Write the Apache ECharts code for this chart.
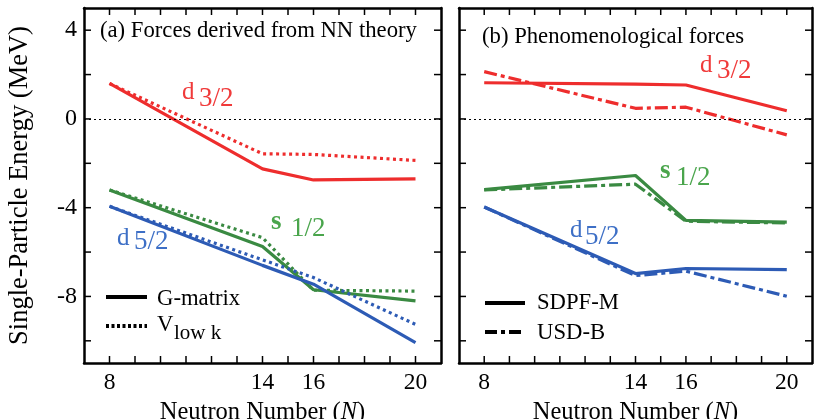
<!DOCTYPE html>
<html>
<head>
<meta charset="utf-8">
<script src="https://cdn.jsdelivr.net/npm/echarts@6/dist/echarts.min.js"></script>
<style>
  html, body { margin: 0; padding: 0; background: #fff; }
  #chart { width: 817px; height: 419px; }
</style>
</head>
<body>
<div id="chart"></div>
<script>
// neutron numbers
const N = [8, 14, 16, 20];
// (a) forces derived from NN theory
const gD32 = [1.6, -2.25, -2.75, -2.7];
const vD32 = [1.6, -1.57, -1.6, -1.87];
const gS12 = [-3.2, -5.75, -7.7, -8.2];
const vS12 = [-3.2, -5.35, -7.72, -7.76];
const gD52 = [-3.94, -6.6, -7.45, -10.08];
const vD52 = [-3.94, -6.35, -7.15, -9.26];
// (b) phenomenological forces
const sD32 = [1.63, 1.57, 1.53, 0.37];
const uD32 = [2.13, 0.48, 0.53, -0.72];
const sS12 = [-3.19, -2.55, -4.57, -4.65];
const uS12 = [-3.2, -2.94, -4.61, -4.69];
const sD52 = [-3.97, -6.97, -6.74, -6.79];
const uD52 = [-3.97, -7.06, -6.86, -7.99];

// ticks and tick labels
const xTicks = [8, 9, 10, 11, 12, 13, 14, 15, 16, 17, 18, 19, 20];
const xLabels = [8, 14, 16, 20];
const yTicks = [-10, -8, -6, -4, -2, 0, 2, 4];
const yLabels = [-8, -4, 0, 4];

const RED = '#ee2d2d', GREEN = '#3a8a42', BLUE = '#2d5bb5';
const RED_T = '#f03a3a', GREEN_T = '#4aa54c', BLUE_T = '#3d6fc6';
const FONT = "'Liberation Serif', 'DejaVu Serif', serif";
const DOT = [3, 3.5];
const DASHDOT = [13, 4, 4, 4];
const X_MIN = 7, X_MAX = 21, Y_MIN = -11, Y_MAX = 5;
const GRIDS = [
  { left: 84, top: 8, width: 357, height: 355 },
  { left: 459, top: 8, width: 353, height: 355 }
];

var myChart = echarts.init(document.getElementById('chart'));

function pts(ys) {
  return N.map((n, i) => [n, ys[i]]);
}

const frame = { show: true, onZero: false, lineStyle: { color: '#000', width: 2.5 } };

function xAx(grid, pos, labels) {
  return {
    gridIndex: grid, type: 'value', position: pos, min: X_MIN, max: X_MAX,
    axisLine: frame,
    axisTick: { show: false },
    axisLabel: { show: labels, customValues: xLabels, color: '#000', fontSize: 23.5, fontFamily: FONT, margin: 8 },
    splitLine: { show: false },
    name: labels ? 'Neutron Number ({i|N})' : '',
    nameLocation: 'middle', nameGap: 32,
    nameTextStyle: {
      color: '#000', fontSize: 24.5, fontFamily: FONT,
      rich: { i: { fontStyle: 'italic', fontSize: 24.5, fontFamily: FONT, color: '#000' } }
    }
  };
}

function yAx(grid, pos, labels, name) {
  return {
    gridIndex: grid, type: 'value', position: pos, min: Y_MIN, max: Y_MAX,
    axisLine: frame,
    axisTick: { show: false },
    axisLabel: { show: labels, customValues: yLabels, color: '#000', fontSize: 24, fontFamily: FONT, margin: 7 },
    splitLine: { show: false },
    name: name || '',
    nameLocation: 'middle', nameGap: 50,
    nameTextStyle: { color: '#000', fontSize: 26.5, fontFamily: FONT }
  };
}

function line(idx, ys, color, dash, zero) {
  let s = {
    type: 'line', xAxisIndex: idx, yAxisIndex: idx, data: pts(ys),
    symbol: 'none', silent: true, animation: false,
    lineStyle: { color: color, width: 3.2, type: dash }
  };
  if (zero) {
    s.markLine = {
      silent: true, symbol: 'none', animation: false,
      label: { show: false },
      lineStyle: { color: '#000', width: 1.2, type: [2, 3] },
      data: [{ yAxis: 0 }]
    };
  }
  return s;
}

// text placed by its baseline
function txt(x, base, text, size, color, bold) {
  return {
    type: 'text', x: x, y: base - 0.82 * size, z: 50,
    style: {
      text: text, fontSize: size, fontFamily: FONT, fill: color,
      fontWeight: bold ? 'bold' : 'normal', verticalAlign: 'top', align: 'left'
    }
  };
}

function seg(x1, y1, x2, y2, width, dash) {
  return {
    type: 'line', z: 50, shape: { x1: x1, y1: y1, x2: x2, y2: y2 },
    style: { stroke: '#000', lineWidth: width, lineDash: dash || null }
  };
}

// tick position along an axis of a grid
function px(g, v) { return GRIDS[g].left + (v - X_MIN) / (X_MAX - X_MIN) * GRIDS[g].width; }
function py(g, v) { return GRIDS[g].top + (Y_MAX - v) / (Y_MAX - Y_MIN) * GRIDS[g].height; }

let graphics = [
  txt(100, 38.5, '(a) Forces derived from NN theory', 22.7, '#000'),
  txt(482, 44, '(b) Phenomenological forces', 22.7, '#000'),
  // level labels
  txt(182, 100.5, 'd', 25, RED_T), txt(199, 108, '3/2', 27, RED_T),
  txt(271, 231, 's', 27, GREEN_T, true), txt(291, 238, '1/2', 27, GREEN_T),
  txt(117, 246, 'd', 25, BLUE_T), txt(134, 251, '5/2', 27, BLUE_T),
  txt(700, 73, 'd', 25, RED_T), txt(717, 80, '3/2', 27, RED_T),
  txt(660, 180, 's', 27, GREEN_T, true), txt(676, 187, '1/2', 27, GREEN_T),
  txt(570, 238.5, 'd', 25, BLUE_T), txt(585, 246, '5/2', 27, BLUE_T),
  // legends
  seg(106, 297, 147, 297, 4),
  txt(157, 306, 'G-matrix', 22.7, '#000'),
  seg(106, 326, 147, 326, 4, [3, 2.5]),
  txt(157, 332, 'V', 22.7, '#000'),
  txt(174, 340, 'low k', 21, '#000'),
  seg(485, 303, 525, 303, 4),
  txt(537, 310, 'SDPF-M', 22.7, '#000'),
  seg(485, 332, 525, 332, 4, [12, 4, 4, 4]),
  txt(537, 340, 'USD-B', 22.7, '#000')
];

// inward tick marks on all four sides
[0, 1].forEach(g => {
  const top = GRIDS[g].top, bottom = GRIDS[g].top + GRIDS[g].height;
  const left = GRIDS[g].left, right = GRIDS[g].left + GRIDS[g].width;
  xTicks.forEach(v => {
    const x = px(g, v);
    graphics.push(seg(x, bottom, x, bottom - 7, 1.5), seg(x, top, x, top + 7, 1.5));
  });
  yTicks.forEach(v => {
    const y = py(g, v);
    graphics.push(seg(left, y, left + 7, y, 1.5), seg(right, y, right - 7, y, 1.5));
  });
});

myChart.setOption({
  animation: false,
  // keep the plot boxes exactly where they are set
  grid: GRIDS.map(g => Object.assign({ outerBoundsMode: 'none', containLabel: false }, g)),
  xAxis: [
    xAx(0, 'bottom', true), xAx(1, 'bottom', true),
    xAx(0, 'top', false), xAx(1, 'top', false)
  ],
  yAxis: [
    yAx(0, 'left', true, 'Single-Particle Energy (MeV)'), yAx(1, 'left', false),
    yAx(0, 'right', false), yAx(1, 'right', false)
  ],
  series: [
    line(0, gD32, RED, 'solid', true),
    line(0, vD32, RED, DOT),
    line(0, gS12, GREEN, 'solid'),
    line(0, vS12, GREEN, DOT),
    line(0, gD52, BLUE, 'solid'),
    line(0, vD52, BLUE, DOT),
    line(1, sD32, RED, 'solid', true),
    line(1, uD32, RED, DASHDOT),
    line(1, sS12, GREEN, 'solid'),
    line(1, uS12, GREEN, DASHDOT),
    line(1, sD52, BLUE, 'solid'),
    line(1, uD52, BLUE, DASHDOT)
  ],
  graphic: graphics
});
</script>
</body>
</html>
